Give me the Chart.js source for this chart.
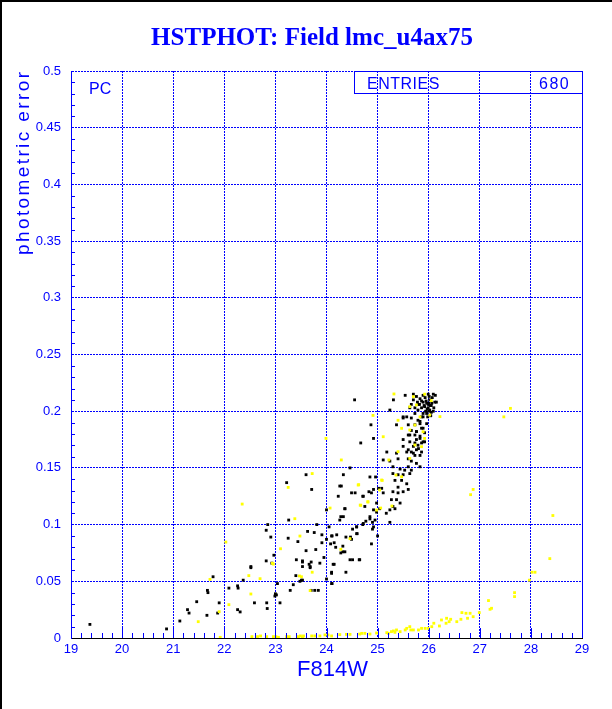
<!DOCTYPE html>
<html lang="en">
<head>
    <meta charset="UTF-8">
    <title>HSTPHOT: Field lmc_u4ax75</title>
    <script src="https://cdn.jsdelivr.net/npm/chart.js"></script>
    <style>
        body {
            margin: 0;
            padding: 0;
            background-color: white;
        }
        #plot {
            display: block;
        }
    </style>
</head>
<body>
    <canvas id="plot" width="612" height="709"></canvas>

    <script>
        // axis ranges / ticks
        var magRange = [19, 29];
        var errRange = [0, 0.5];
        var magStep = 1;
        var errStep = 0.05;

        // black points: stars kept in the photometry (F814W, photometric error)
        var blackPoints = [
            [19.37,0.012],[20.87,0.008],[21.13,0.015],[21.28,0.025],[21.31,0.022],[21.46,0.032],[21.66,0.020],[21.67,0.042],
            [21.68,0.040],[21.78,0.054],[21.87,0.022],[21.90,0.031],[22.09,0.044],[22.26,0.046],[22.27,0.044],[22.26,0.025],
            [22.31,0.023],[22.37,0.051],[22.52,0.063],[22.59,0.031],[22.82,0.068],[22.83,0.031],[22.84,0.026],[22.93,0.066],
            [23.00,0.039],[22.99,0.037],[23.04,0.048],[23.09,0.031],[23.35,0.047],[23.29,0.042],[23.40,0.055],[23.53,0.051],
            [23.53,0.063],[23.53,0.067],[23.66,0.065],[23.68,0.063],[23.70,0.067],[23.77,0.042],[23.84,0.042],[23.48,0.050],
            [23.70,0.042],[24.00,0.052],[24.11,0.048],[24.13,0.065],[24.38,0.058],[24.10,0.058],
            [22.82,0.095],[23.25,0.088],[23.44,0.085],[23.60,0.077],[23.81,0.100],[23.76,0.093],[23.91,0.091],[23.91,0.084],
            [23.95,0.071],[24.00,0.087],[24.11,0.090],[24.15,0.084],[24.32,0.076],[24.46,0.069],[24.59,0.092],[24.64,0.069],
            [24.51,0.096],[24.77,0.103],[24.90,0.096],[24.88,0.083],[25.00,0.090],[22.97,0.073],[22.52,0.062],[23.41,0.069],
            [23.53,0.068],[23.68,0.062],[23.87,0.066],[23.51,0.051],[23.02,0.038],[23.79,0.078],[24.49,0.087],[24.28,0.075],
            [23.63,0.094],[24.05,0.098],[24.18,0.080],[24.10,0.090],[24.20,0.091],[24.38,0.089],[24.47,0.089],[24.60,0.092],
            [24.59,0.098],[24.71,0.100],[24.92,0.098],[24.32,0.081],[24.36,0.076],[24.65,0.069],[24.51,0.069],[24.15,0.065],
            [24.10,0.057],[24.10,0.048],[24.08,0.083],[22.91,0.089],[22.85,0.100],
            [23.22,0.137],[23.71,0.131],[24.29,0.134],[25.02,0.132],[23.26,0.104],[24.00,0.113],[24.23,0.125],[24.28,0.107],
            [24.36,0.114],[24.71,0.125],[24.83,0.129],[24.85,0.105],[24.90,0.102],[24.98,0.111],[25.24,0.102],[25.11,0.157],
            [25.30,0.145],[25.40,0.144],[25.50,0.144],[25.63,0.145],[25.34,0.139],[25.47,0.139],[25.57,0.136],[25.40,0.133],
            [25.30,0.129],[25.40,0.128],[25.50,0.129],[25.60,0.131],[25.27,0.122],[25.37,0.122],[25.44,0.119],[25.30,0.116],
            [25.24,0.113],[25.34,0.114],[25.17,0.110],[24.92,0.113],[25.04,0.114],[24.85,0.107],[24.95,0.104],[24.72,0.101],
            [24.59,0.098],[24.36,0.114],[24.26,0.104],[24.33,0.107],[24.49,0.128],[24.56,0.128],[24.72,0.125],[24.88,0.128],
            [24.98,0.119],[25.11,0.128],[25.08,0.132],[24.92,0.131],[24.85,0.142],[24.75,0.116],[24.96,0.142],[24.46,0.150],
            [24.33,0.144],[24.26,0.134],[23.60,0.144],
            [24.55,0.210],[25.24,0.201],[24.87,0.188],[24.67,0.172],[24.92,0.176],[25.18,0.164],[25.24,0.156],[25.50,0.195],
            [25.57,0.195],[25.66,0.194],[25.79,0.192],[25.89,0.195],[25.83,0.189],[25.73,0.188],[25.60,0.188],[25.96,0.189],
            [25.66,0.183],[25.76,0.182],[25.86,0.185],[25.92,0.181],[25.83,0.178],[25.73,0.179],[25.60,0.179],[25.50,0.175],
            [25.63,0.173],[25.76,0.175],[25.86,0.172],[25.92,0.173],[25.79,0.170],[25.70,0.169],[25.57,0.164],[25.66,0.164],
            [25.76,0.166],[25.83,0.161],[25.73,0.161],[25.60,0.158],[25.66,0.156],[25.76,0.154],[25.83,0.151],[25.60,0.151],
            [25.40,0.158],[25.30,0.151],[25.44,0.149],[25.53,0.148],[25.66,0.148],[25.37,0.163],
            [25.31,0.210],[25.54,0.214],[25.70,0.210],[25.80,0.206],[25.89,0.208],[25.63,0.203],[25.73,0.198],[25.86,0.195],
            [25.50,0.194],[25.37,0.188],[25.83,0.191],[25.89,0.185],[25.76,0.182],[25.63,0.179],[25.83,0.176],[25.89,0.173],
            [25.73,0.172],[25.80,0.167],[25.60,0.166],[25.50,0.169],[25.86,0.164],[25.70,0.163],
            [25.70,0.215],[25.76,0.213],[25.83,0.211],[25.89,0.214],[25.99,0.215],[26.09,0.215],[26.15,0.208],[26.02,0.210],
            [25.96,0.207],[25.92,0.204],[25.99,0.206],[26.05,0.205],[26.12,0.208],[25.86,0.203],[25.79,0.201],[25.73,0.203],
            [25.66,0.206],[26.02,0.201],[26.09,0.200],[25.96,0.198],[25.89,0.198],[25.99,0.203],[26.00,0.200],[26.03,0.205],
            [25.97,0.202],[26.05,0.199],[25.95,0.209],[26.07,0.212],[25.93,0.212],[26.01,0.213],[25.98,0.195],[26.04,0.196],
            [25.91,0.205],[26.10,0.203],[25.86,0.209],[25.82,0.206],[26.13,0.214],[25.78,0.208],[26.06,0.207],[25.94,0.200],
            [26.00,0.207]
        ];

        // yellow points: rejected / other objects
        var yellowPoints = [
            [21.92,0.0006],[22.54,0.0012],[22.65,0.0012],[22.71,0.0018],[22.83,0.0012],[22.96,0.0012],[23.01,0.0012],[23.06,0.0006],
            [23.22,0.0012],[23.27,0.0012],[23.45,0.0012],[23.49,0.0018],[23.53,0.0006],[23.55,0.0018],[23.71,0.0018],[23.77,0.0018],
            [23.87,0.0018],[23.97,0.0027],[24.03,0.0027],[24.10,0.0018],[24.26,0.0030],[24.39,0.0032],[24.46,0.0032],[24.65,0.0035],
            [24.69,0.0041],[24.75,0.0041],[24.85,0.0035],[24.98,0.0044],[25.18,0.0047],[25.21,0.0041],[25.27,0.0056],[25.31,0.0062],
            [25.34,0.0050],[25.37,0.0071],[25.44,0.0056],[25.54,0.0071],[25.57,0.0085],[25.63,0.0100],[25.65,0.0071],[25.70,0.0071],
            [25.80,0.0071],[25.86,0.0085],[25.93,0.0085],[25.99,0.0085],[26.06,0.0100],[26.10,0.0130],[26.21,0.0106],[26.25,0.0159],
            [26.34,0.0130],[26.35,0.0174],[26.40,0.0144],[26.43,0.0165],[26.55,0.0144],[26.63,0.0165],[26.65,0.0224],[26.73,0.0218],
            [26.76,0.0174],[26.81,0.0218],[26.87,0.0188],[26.99,0.0224],[27.17,0.0330],[27.20,0.0253],[27.23,0.0262],[27.68,0.0400],
            [27.68,0.0365],[27.97,0.0510],[28.02,0.0580],[28.08,0.0580],[28.37,0.0700],[28.43,0.1080],
            [21.49,0.0144],[21.72,0.0517],[21.90,0.0232],[22.09,0.0294],[22.48,0.0550],[22.70,0.0523],[22.52,0.0388],[22.94,0.0659],
            [23.47,0.0547],[23.51,0.0540],[23.72,0.0580],[23.68,0.0418],
            [23.25,0.1328],[24.63,0.1352],[25.09,0.1390],[22.35,0.1181],[23.38,0.1052],[24.07,0.1146],[24.81,0.1199],[25.06,0.1146],
            [25.28,0.1164],[22.03,0.0846],[23.10,0.0787],[23.48,0.0899],[24.46,0.0876],[24.28,0.0782],[22.96,0.0652],[24.67,0.1170],
            [23.99,0.1760],[23.72,0.1450],
            [25.32,0.2152],[25.70,0.2128],[25.92,0.2150],[26.05,0.2093],[26.22,0.1952],[25.83,0.1950],[25.40,0.1920],[26.02,0.1966],
            [25.76,0.2055],[25.63,0.2040],[24.91,0.1963],[25.47,0.1849],[25.73,0.1878],[25.89,0.1819],[25.63,0.1834],[25.11,0.1775],
            [25.86,0.1687],[25.92,0.1760],[25.40,0.1643],[25.73,0.1702],[25.22,0.1570],[25.63,0.1584],[25.08,0.1393],[25.47,0.1422],
            [25.36,0.1437],[24.62,0.1349],[25.04,0.1305],[24.81,0.1202],[24.98,0.1128],[24.66,0.1172],[24.29,0.1570],[27.60,0.2025],
            [27.47,0.1950],[26.87,0.1310],[26.82,0.1264]
        ];

        var BLUE = '#0000ff';

        function toXY(list) {
            return list.map(function (p) { return { x: p[0], y: p[1] }; });
        }

        // text with extra letter spacing (the original uses a wide stroke font)
        function spacedWidth(ctx, text) {
            var w = 0;
            for (var i = 0; i < text.length; i++) w += ctx.measureText(text[i]).width;
            return w;
        }
        function spacedText(ctx, text, x, y, spacing) {
            var cx = x;
            for (var i = 0; i < text.length; i++) {
                ctx.fillText(text[i], cx, y);
                cx += ctx.measureText(text[i]).width + spacing;
            }
        }

        var decorations = {
            id: 'decorations',
            beforeDraw: function (chart) {
                var ctx = chart.ctx;
                ctx.save();
                ctx.fillStyle = 'white';
                ctx.fillRect(0, 0, chart.width, chart.height);
                ctx.restore();
            },
            afterDraw: function (chart) {
                var ctx = chart.ctx;
                var a = chart.chartArea;
                var x = chart.scales.x;
                var y = chart.scales.y;
                ctx.save();

                // minor / major ticks
                ctx.strokeStyle = BLUE;
                ctx.lineWidth = 1;
                ctx.beginPath();
                for (var i = 0; i <= 50; i++) {
                    if (i % 5 === 0) continue;
                    var py = Math.round(y.getPixelForValue(i / 100)) + 0.5;
                    ctx.moveTo(a.left, py);
                    ctx.lineTo(a.left + 4, py);
                }
                for (var j = 0; j <= 50; j++) {
                    var px = Math.round(x.getPixelForValue(19 + j * 0.2)) + 0.5;
                    var len = (j % 5 === 0) ? 10 : 5;
                    ctx.moveTo(px, a.bottom);
                    ctx.lineTo(px, a.bottom - len);
                }
                ctx.stroke();

                // right frame
                ctx.beginPath();
                ctx.moveTo(Math.round(a.right) + 0.5, a.top);
                ctx.lineTo(Math.round(a.right) + 0.5, a.bottom);
                ctx.stroke();

                // stats box
                ctx.strokeRect(354.5, Math.round(a.top) + 0.5, Math.round(a.right) - 354, 22);
                ctx.fillStyle = BLUE;
                ctx.font = '16px "Liberation Sans"';
                ctx.textBaseline = 'alphabetic';
                ctx.textAlign = 'left';
                spacedText(ctx, 'ENTRIES', 367, 89, 0.5);
                spacedText(ctx, '680', 539, 89, 1.5);
                ctx.fillText('PC', 89, 94);

                // title
                ctx.font = 'bold 25px "Liberation Serif"';
                ctx.textAlign = 'center';
                ctx.fillText('HSTPHOT: Field lmc_u4ax75', 312, 45);

                // x axis title
                ctx.font = '22px "Liberation Sans"';
                ctx.textAlign = 'left';
                spacedText(ctx, 'F814W', 297, 676, 0);

                // y axis title
                ctx.font = '19px "Liberation Sans"';
                var label = 'photometric error';
                var sp = (183 - spacedWidth(ctx, label)) / (label.length - 1);
                ctx.translate(29, 255);
                ctx.rotate(-Math.PI / 2);
                spacedText(ctx, label, 0, 0, sp);
                ctx.restore();

                // outer frame (left and top edges)
                ctx.save();
                ctx.fillStyle = '#000';
                ctx.fillRect(0, 0, 2, chart.height);
                ctx.fillRect(0, 0, chart.width, 2);
                ctx.restore();
            }
        };

        var ctx = document.getElementById('plot').getContext('2d');
        var chart = new Chart(ctx, {
            type: 'scatter',
            data: {
                datasets: [{
                    label: 'rejected',
                    data: toXY(yellowPoints),
                    pointStyle: 'rect',
                    pointRadius: 2,
                    pointBorderWidth: 0,
                    backgroundColor: '#ffff00',
                    borderColor: '#ffff00'
                }, {
                    label: 'stars',
                    data: toXY(blackPoints),
                    pointStyle: 'rect',
                    pointRadius: 2,
                    pointBorderWidth: 0,
                    backgroundColor: '#000000',
                    borderColor: '#000000'
                }]
            },
            options: {
                responsive: false,
                animation: false,
                events: [],
                layout: {
                    padding: { top: 71, right: 30, left: 0, bottom: 0 }
                },
                plugins: {
                    legend: { display: false },
                    tooltip: { enabled: false },
                    title: { display: false }
                },
                scales: {
                    x: {
                        type: 'linear',
                        min: magRange[0],
                        max: magRange[1],
                        afterFit: function (s) { s.height = 71; },
                        ticks: {
                            stepSize: magStep,
                            color: BLUE,
                            padding: 4,
                            maxRotation: 0,
                            autoSkip: false,
                            font: { family: 'Liberation Sans', size: 13 }
                        },
                        grid: {
                            color: BLUE,
                            lineWidth: 1,
                            drawTicks: false
                        },
                        border: {
                            display: true,
                            color: '#000000',
                            width: 1,
                            dash: [2, 1]
                        }
                    },
                    y: {
                        type: 'linear',
                        min: errRange[0],
                        max: errRange[1],
                        afterFit: function (s) { s.width = 71; },
                        ticks: {
                            stepSize: errStep,
                            color: BLUE,
                            padding: 10,
                            font: { family: 'Liberation Sans', size: 13 },
                            callback: function (v) { return String(+v.toFixed(2)); }
                        },
                        grid: {
                            color: BLUE,
                            lineWidth: 1,
                            drawTicks: false
                        },
                        border: {
                            display: true,
                            color: BLUE,
                            width: 1,
                            dash: [2, 1]
                        }
                    }
                }
            },
            plugins: [decorations]
        });
    </script>
</body>
</html>
